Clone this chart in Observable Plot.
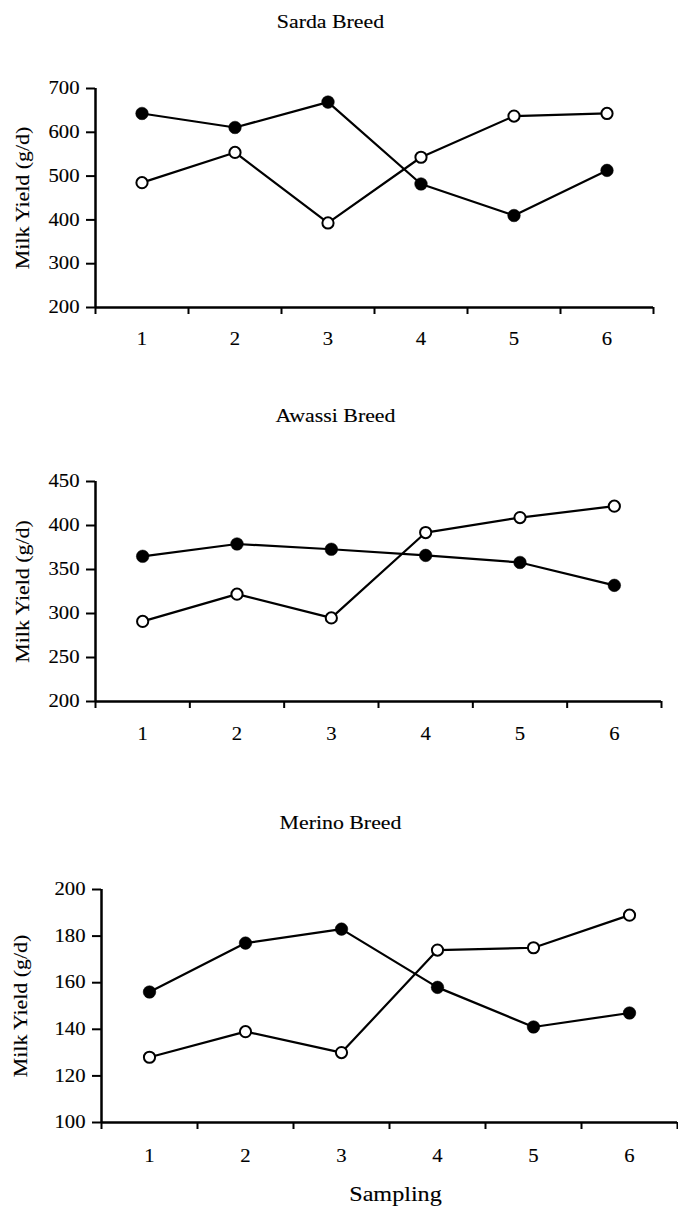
<!DOCTYPE html>
<html>
<head>
<meta charset="utf-8">
<script src="https://cdn.jsdelivr.net/npm/d3@7"></script>
<script src="https://cdn.jsdelivr.net/npm/@observablehq/plot@0.6"></script>
<style>
  body { margin: 0; background: #fff; }
  #chart { position: relative; width: 678px; height: 1206px; overflow: hidden; }
  #chart svg { display: block; }
  #chart svg text { stroke: #000; stroke-width: 0.12px; }
</style>
</head>
<body>
<div id="chart"></div>
<script>
// ---- data ----
const sampling = [1, 2, 3, 4, 5, 6];
const xBoundaries = [0.5, 1.5, 2.5, 3.5, 4.5, 5.5, 6.5];

const sardaFilled = [643, 611, 669, 482, 410, 513];
const sardaOpen   = [485, 554, 393, 543, 637, 643];
const sardaTicks  = [200, 300, 400, 500, 600, 700];

const awassiFilled = [365, 379, 373, 366, 358, 332];
const awassiOpen   = [291, 322, 295, 392, 409, 422];
const awassiTicks  = [200, 250, 300, 350, 400, 450];

const merinoFilled = [156, 177, 183, 158, 141, 147];
const merinoOpen   = [128, 139, 130, 174, 175, 189];
const merinoTicks  = [100, 120, 140, 160, 180, 200];

const titles = ["Sarda Breed", "Awassi Breed", "Merino Breed"];
const yLabel = "Milk Yield (g/d)";
const xLabel = "Sampling";

const FONT = "'Liberation Serif', 'Times New Roman', Times, serif";
const TEXT_STRETCH = 1.15;

function rows(values) {
  return sampling.map((s, i) => ({ sampling: s, value: values[i] }));
}

function panel(o) {
  const filled = rows(o.filled);
  const open = rows(o.open);
  const yMin = o.yTicks[0], yMax = o.yTicks[o.yTicks.length - 1];
  const marks = [
    Plot.ruleY([yMin], { stroke: "black", strokeWidth: 2.5 }),
    Plot.ruleX([0.5], { stroke: "black", strokeWidth: 2.5 }),
    Plot.axisY({ ticks: o.yTicks, tickSize: 9, tickPadding: 7, strokeWidth: 2, fontSize: 18, label: null }),
    Plot.axisX({ ticks: xBoundaries, tickSize: 7, strokeWidth: 2, tickFormat: () => "", label: null }),
    Plot.axisX({ ticks: sampling, tickSize: 0, tickPadding: o.xPad, fontSize: 18, tickFormat: d => String(d), label: null }),
    Plot.line(filled, { x: "sampling", y: "value", stroke: "black", strokeWidth: 2.2 }),
    Plot.line(open, { x: "sampling", y: "value", stroke: "black", strokeWidth: 2.2 }),
    Plot.dot(filled, { x: "sampling", y: "value", r: 6.3, fill: "black", stroke: "black", strokeWidth: 0.5 }),
    Plot.dot(open, { x: "sampling", y: "value", r: 5.6, fill: "white", stroke: "black", strokeWidth: 2 }),
    Plot.text([o.title], { text: d => d, frameAnchor: "top", lineAnchor: "middle", textAnchor: "middle", dx: o.titleDx, dy: o.titleDy, fontSize: 19 }),
    Plot.text([yLabel], { text: d => d, frameAnchor: "left", rotate: -90, textAnchor: "middle", lineAnchor: "middle", dx: o.yLabelDx, fontSize: 19 })
  ];
  if (o.showXLabel) {
    marks.push(Plot.text([xLabel], { text: d => d, frameAnchor: "bottom", lineAnchor: "middle", textAnchor: "middle", dx: 6, dy: 72, fontSize: 21 }));
  }
  const svg = Plot.plot({
    width: 678,
    height: o.height,
    marginTop: o.mt,
    marginBottom: o.mb,
    marginLeft: o.ml,
    marginRight: o.mr,
    x: { domain: [0.5, 6.5] },
    y: { domain: [yMin, yMax] },
    style: { fontFamily: FONT, fontSize: "18px", color: "black", background: "white", overflow: "visible" },
    marks
  });
  // horizontally stretch each text around its own anchor (scanned typography is wide)
  svg.querySelectorAll("text").forEach(t => {
    const old = t.getAttribute("transform") || "";
    t.setAttribute("transform", `${old} scale(${TEXT_STRETCH},1)`.trim());
  });
  return svg;
}

const chart = document.getElementById("chart");
chart.append(panel({
  title: titles[0], filled: sardaFilled, open: sardaOpen, yTicks: sardaTicks,
  height: 390, mt: 88, mb: 83, ml: 95, mr: 25, xPad: 25,
  titleDx: -44, titleDy: -67, yLabelDx: -73
}));
chart.append(panel({
  title: titles[1], filled: awassiFilled, open: awassiOpen, yTicks: awassiTicks,
  height: 400, mt: 91, mb: 89, ml: 95, mr: 17, xPad: 26,
  titleDx: -43, titleDy: -66, yLabelDx: -73
}));
chart.append(panel({
  title: titles[2], filled: merinoFilled, open: merinoOpen, yTicks: merinoTicks,
  height: 416, mt: 99, mb: 84, ml: 101, mr: 1, xPad: 27,
  titleDx: -49, titleDy: -67, yLabelDx: -81, showXLabel: true
}));
</script>
</body>
</html>
